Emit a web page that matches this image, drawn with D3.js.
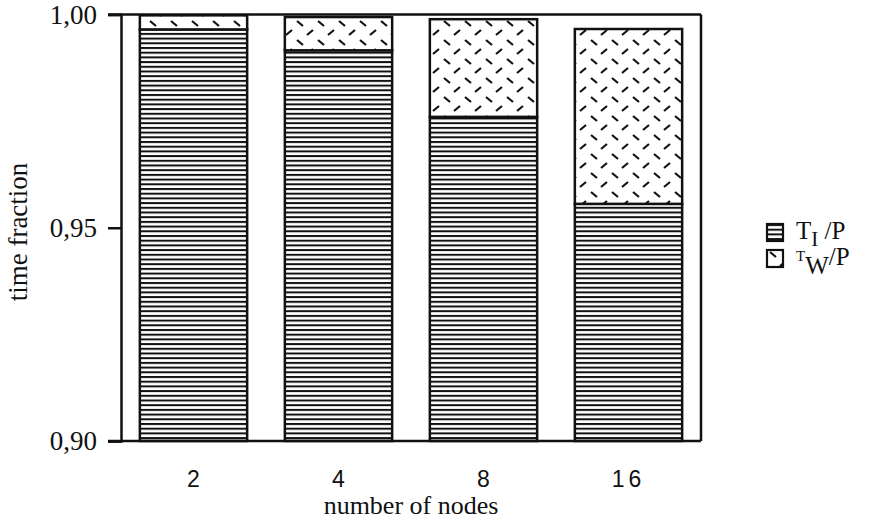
<!DOCTYPE html>
<meta charset="utf-8">
<style>
body { margin: 0; background: #fff; }
.serif { font-family: "Liberation Serif", "Times New Roman", serif; }
.sans { font-family: "Liberation Sans", Arial, sans-serif; }
</style>
<body>
<script src="https://cdn.jsdelivr.net/npm/d3@7"></script>
<script>

// number of nodes on the x axis
var nodes = ["2", "4", "8", "16"];
// T_I / P (bottom, striped part)
var tIdle = [0.9965, 0.9916, 0.9760, 0.9556];
// T_W / P (top, hatched part)
var tWait = [0.0033, 0.0078, 0.0229, 0.0410];
var yTicks = [0.90, 0.95, 1.00];
var yTickLabels = ["0,90", "0,95", "1,00"];

var width = 879, height = 519;

var svg = d3.select("body").append("svg")
    .attr("width", width)
    .attr("height", height);

var defs = svg.append("defs");

// horizontal stripes
var stripes = defs.append("pattern")
    .attr("id", "stripes")
    .attr("patternUnits", "userSpaceOnUse")
    .attr("width", 8)
    .attr("height", 4.7);
stripes.append("rect").attr("width", 8).attr("height", 4.7).attr("fill", "#fff");
stripes.append("rect").attr("y", 0).attr("width", 8).attr("height", 2).attr("fill", "#111");

// dashed zigzag hatch
var hatch = defs.append("pattern")
    .attr("id", "hatch")
    .attr("patternUnits", "userSpaceOnUse")
    .attr("width", 21)
    .attr("height", 19);
hatch.append("rect").attr("width", 21).attr("height", 19).attr("fill", "#fff");
hatch.append("line").attr("x1", 3).attr("y1", 2).attr("x2", 9).attr("y2", 7)
    .attr("stroke", "#111").attr("stroke-width", 2.2);
hatch.append("line").attr("x1", 13).attr("y1", 16).attr("x2", 19).attr("y2", 11)
    .attr("stroke", "#111").attr("stroke-width", 2.2);

var x = d3.scaleBand()
    .domain(nodes)
    .range([121, 701])
    .paddingInner(0.26)
    .paddingOuter(0.13);

var y = d3.scaleLinear()
    .domain([0.90, 1.00])
    .range([441, 14.5]);

var rows = nodes.map(function(n, i) {
  return {n: n, ti: tIdle[i], tw: tWait[i]};
});

// bars: idle part
svg.selectAll("rect.ti")
    .data(rows)
  .enter().append("rect")
    .attr("class", "ti")
    .attr("x", function(d) { return x(d.n); })
    .attr("width", x.bandwidth())
    .attr("y", function(d) { return y(d.ti); })
    .attr("height", function(d) { return y(0.90) - y(d.ti); })
    .attr("fill", "url(#stripes)")
    .attr("stroke", "#111")
    .attr("stroke-width", 2.5);

// bars: wait part
svg.selectAll("rect.tw")
    .data(rows)
  .enter().append("rect")
    .attr("class", "tw")
    .attr("x", function(d) { return x(d.n); })
    .attr("width", x.bandwidth())
    .attr("y", function(d) { return y(d.ti + d.tw); })
    .attr("height", function(d) { return y(d.ti) - y(d.ti + d.tw); })
    .attr("fill", "url(#hatch)")
    .attr("stroke", "#111")
    .attr("stroke-width", 2.5);

// frame
var frame = svg.append("g").attr("stroke", "#111").attr("stroke-width", 2.5).attr("fill", "none");
frame.append("line").attr("x1", 108).attr("x2", 701).attr("y1", y(1.00)).attr("y2", y(1.00));
frame.append("line").attr("x1", 108).attr("x2", 701).attr("y1", y(0.90)).attr("y2", y(0.90));
frame.append("line").attr("x1", 701).attr("x2", 701).attr("y1", y(1.00)).attr("y2", y(0.90));

// y axis
var yAxis = d3.axisLeft(y)
    .tickValues(yTicks)
    .tickSize(13)
    .tickPadding(11)
    .tickFormat(function(d, i) { return yTickLabels[i]; });

var gy = svg.append("g")
    .attr("transform", "translate(121,0)")
    .call(yAxis);
gy.select(".domain").attr("stroke", "#111").attr("stroke-width", 2.5);
gy.selectAll(".tick line").attr("stroke", "#111").attr("stroke-width", 2.5);
gy.selectAll(".tick text")
    .attr("class", "serif")
    .attr("font-size", 27)
    .attr("fill", "#111");

// x tick labels, centred under the bars
svg.selectAll("text.xl")
    .data(nodes)
  .enter().append("text")
    .attr("class", "xl sans")
    .attr("x", function(d) { return x(d) + x.bandwidth() / 2; })
    .attr("y", 487)
    .attr("text-anchor", "middle")
    .attr("font-size", 23)
    .attr("letter-spacing", function(d) { return d.length > 1 ? 4 : 0; })
    .attr("fill", "#111")
    .text(function(d) { return d; });

// axis titles
svg.append("text")
    .attr("class", "serif")
    .attr("x", 411)
    .attr("y", 514)
    .attr("text-anchor", "middle")
    .attr("font-size", 26)
    .attr("fill", "#111")
    .text("number of nodes");

svg.append("text")
    .attr("class", "serif")
    .attr("transform", "translate(27,232) rotate(-90)")
    .attr("text-anchor", "middle")
    .attr("font-size", 27)
    .attr("fill", "#111")
    .text("time fraction");

// legend
var legend = svg.append("g").attr("transform", "translate(767,224)");
var legItems = [
  {fill: "url(#stripes)", main: "T", sub: "I", tail: " /P", smallT: false},
  {fill: "url(#hatch)", main: "T", sub: "W", tail: "/P", smallT: true}
];
legItems.forEach(function(it, i) {
  var row = legend.append("g").attr("transform", "translate(0," + (i * 26) + ")");
  row.append("rect")
      .attr("width", 16)
      .attr("height", 17)
      .attr("fill", it.fill)
      .attr("stroke", "#111")
      .attr("stroke-width", 2.2);
  var t = row.append("text")
      .attr("class", "serif")
      .attr("x", 29)
      .attr("y", 15)
      .attr("font-size", 25)
      .attr("fill", "#111");
  if (it.smallT) {
    t.append("tspan").attr("font-size", 15).attr("dy", -4).text(it.main);
    t.append("tspan").attr("dy", 13).text(it.sub);
    t.append("tspan").attr("dy", -9).text(it.tail);
  } else {
    t.append("tspan").text(it.main);
    t.append("tspan").attr("font-size", 21).attr("dy", 7).text(it.sub);
    t.append("tspan").attr("dy", -7).text(it.tail);
  }
});

</script>
</body>
